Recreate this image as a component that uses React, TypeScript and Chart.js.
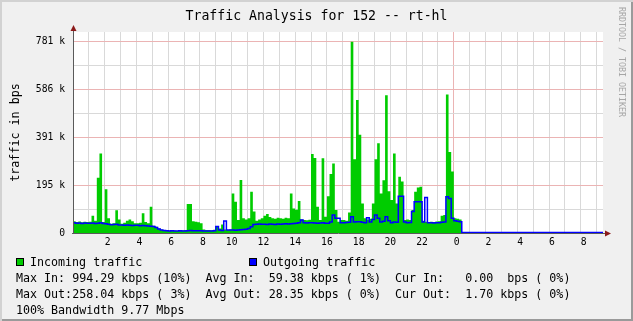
import React, { useEffect, useRef } from 'react';
import { Chart, registerables } from 'chart.js';

Chart.register(...registerables);

const MONO = '"DejaVu Sans Mono", monospace';

const TITLE = 'Traffic Analysis for 152 -- rt-hl';
const Y_TITLE = 'traffic in bps';
const WATERMARK = 'RRDTOOL / TOBI OETIKER';

// time axis in hours from the left edge, 10-minute samples
const SAMPLES_PER_HOUR = 6;
const DATA_END_HOUR = 24.5;
const AXIS_END_HOUR = 33.4;
const HOUR_TICK_COUNT = 34;

// value axis in kbit/s
const Y_MAX_K = 817.9;
const Y_STEP_K = 97.65625;
const Y_TICK_COUNT = 9;
const yTickLabels = ['0', '195 k', '391 k', '586 k', '781 k'];
const hourLabels = ['', ' 2', ' 4', ' 6', ' 8', '10', '12', '14', '16', '18', '20', '22', ' 0', ' 2', ' 4', ' 6', ' 8'];

const incomingK = [
  48, 45, 47, 44, 46, 45,
  46, 70, 50, 225, 324, 45,
  178, 60, 38, 40, 93, 55,
  38, 42, 50, 55, 48, 40,
  40, 42, 80, 45, 40, 107,
  30, 25, 18, 14, 12, 11,
  10, 11, 10, 9, 10, 11,
  12, 118, 118, 48, 46, 44,
  40, 14, 12, 12, 11, 13,
  26, 18, 35, 14, 12, 14,
  161, 127, 53, 216, 60, 55,
  60, 168, 87, 50, 55, 60,
  70, 77, 65, 60, 58, 62,
  60, 58, 62, 60, 161, 100,
  95, 130, 55, 53, 52, 54,
  321, 305, 107, 53, 304, 66,
  150, 240, 283, 94, 46, 53,
  53, 50, 83, 778, 300, 541,
  400, 120, 60, 55, 58, 120,
  300, 365, 161, 215, 561, 170,
  134, 324, 120, 229, 210, 53,
  55, 53, 94, 168, 185, 188,
  50, 46, 45, 46, 45, 47,
  48, 70, 73, 564, 330, 250,
  60, 58, 55,
];

const outgoingK = [
  42, 40, 41, 39, 41, 40,
  40, 41, 39, 40, 42, 39,
  38, 36, 34, 35, 36, 33,
  33, 32, 33, 32, 31, 32,
  32, 30, 31, 30, 28, 27,
  26, 22, 16, 12, 10, 9,
  8, 9, 8, 8, 9, 8,
  8, 9, 10, 9, 9, 9,
  9, 8, 8, 8, 8, 9,
  26, 12, 10, 49, 12, 12,
  12, 11, 12, 13, 14, 15,
  18, 25, 35, 36, 37, 36,
  36, 35, 37, 36, 35, 37,
  36, 37, 38, 37, 38, 39,
  40, 42, 53, 42, 41, 42,
  42, 41, 40, 41, 42, 40,
  40, 45, 73, 60, 60, 42,
  42, 43, 44, 66, 45, 46,
  46, 44, 42, 62, 45, 55,
  73, 60, 45, 48, 66, 50,
  42, 45, 44, 150, 150, 45,
  42, 43, 87, 127, 127, 127,
  45, 144, 42, 42, 41, 42,
  42, 44, 45, 148, 140, 60,
  50, 48, 46,
];
const outgoingTailK = 2;
const incomingTailK = 0;

const legendLabels = ['Incoming traffic', 'Outgoing traffic'];
const legendColors = ['#00cc00', '#0000ff'];
const statLines = [
  'Max In: 994.29 kbps (10%)  Avg In:  59.38 kbps ( 1%)  Cur In:   0.00  bps ( 0%)',
  'Max Out:258.04 kbps ( 3%)  Avg Out: 28.35 kbps ( 0%)  Cur Out:  1.70 kbps ( 0%)',
  '100% Bandwidth 9.77 Mbps',
];

const MINOR_GRID = '#d9d9d9';
const MAJOR_GRID = '#ebb4b4';

const plotBackground = {
  id: 'plotBackground',
  beforeDraw(chart: any) {
    const { ctx, chartArea } = chart;
    ctx.save();
    ctx.fillStyle = '#ffffff';
    ctx.fillRect(chartArea.left, chartArea.top, chartArea.right - chartArea.left, chartArea.bottom - chartArea.top);
    ctx.restore();
  },
};

const axesArrows = {
  id: 'axesArrows',
  afterDatasetsDraw(chart: any) {
    const { ctx, chartArea } = chart;
    const { left, top, right, bottom } = chartArea;
    ctx.save();
    ctx.strokeStyle = '#5a5a5a';
    ctx.lineWidth = 1;
    ctx.beginPath();
    ctx.moveTo(left + 0.5, bottom + 1);
    ctx.lineTo(left + 0.5, top - 3);
    ctx.moveTo(left - 1, bottom + 0.5);
    ctx.lineTo(right + 2, bottom + 0.5);
    ctx.stroke();
    ctx.fillStyle = '#8b1a1a';
    ctx.beginPath();
    ctx.moveTo(left + 0.5, top - 7);
    ctx.lineTo(left - 2.5, top - 1);
    ctx.lineTo(left + 3.5, top - 1);
    ctx.closePath();
    ctx.fill();
    ctx.beginPath();
    ctx.moveTo(right + 8, bottom + 0.5);
    ctx.lineTo(right + 2, bottom - 2.5);
    ctx.lineTo(right + 2, bottom + 3.5);
    ctx.closePath();
    ctx.fill();
    ctx.restore();
  },
};

export default function App() {
  const canvasRef = useRef<HTMLCanvasElement | null>(null);

  useEffect(() => {
    document.body.style.margin = '0';
    const canvas = canvasRef.current;
    if (!canvas) return;

    const inPoints = incomingK.map((v, i) => ({ x: i / SAMPLES_PER_HOUR, y: v }));
    inPoints.push({ x: DATA_END_HOUR, y: incomingTailK });
    const outPoints = outgoingK.map((v, i) => ({ x: i / SAMPLES_PER_HOUR, y: v }));
    outPoints.push({ x: DATA_END_HOUR, y: outgoingTailK });
    outPoints.push({ x: AXIS_END_HOUR, y: outgoingTailK });

    const tickFont = { family: MONO, size: 9.7 };

    const chart = new Chart(canvas, {
      type: 'line',
      data: {
        datasets: [
          {
            label: legendLabels[0],
            data: inPoints,
            stepped: 'before',
            fill: 'origin',
            backgroundColor: legendColors[0],
            borderColor: legendColors[0],
            borderWidth: 0,
            pointRadius: 0,
            yAxisID: 'y',
            order: 2,
          },
          {
            label: legendLabels[1],
            data: outPoints,
            stepped: 'before',
            fill: false,
            borderColor: legendColors[1],
            borderWidth: 1.5,
            pointRadius: 0,
            yAxisID: 'y',
            order: 1,
          },
        ],
      },
      options: {
        animation: false,
        responsive: false,
        events: [],
        layout: { padding: { left: 0, right: 0, top: 0, bottom: 68 } },
        plugins: {
          legend: { display: false },
          tooltip: { enabled: false },
          title: {
            display: true,
            text: TITLE,
            color: '#000000',
            font: { family: MONO, size: 13.2, weight: 'normal' },
            padding: { top: 8.6, bottom: 7.56 },
          },
        },
        scales: {
          x: {
            type: 'linear',
            min: 0,
            max: AXIS_END_HOUR,
            afterBuildTicks: (s: any) => {
              s.ticks = Array.from({ length: HOUR_TICK_COUNT }, (_, h) => ({ value: h }));
            },
            afterFit: (s: any) => {
              s.height = 20;
            },
            border: { display: false },
            grid: {
              drawTicks: false,
              lineWidth: 1,
              color: (c: any) => {
                const v = c.tick ? c.tick.value : -1;
                if (v === 0) return 'rgba(0,0,0,0)';
                return v === 24 ? MAJOR_GRID : MINOR_GRID;
              },
            },
            ticks: {
              autoSkip: false,
              maxRotation: 0,
              padding: 4,
              color: '#000000',
              font: tickFont,
              callback: (v: any) => (v % 2 === 0 ? hourLabels[v / 2] : ''),
            },
          },
          y: {
            type: 'linear',
            min: 0,
            max: Y_MAX_K,
            afterBuildTicks: (s: any) => {
              s.ticks = Array.from({ length: Y_TICK_COUNT }, (_, i) => ({ value: i * Y_STEP_K }));
            },
            afterFit: (s: any) => {
              s.width = 73;
            },
            border: { display: false },
            grid: {
              drawTicks: false,
              lineWidth: 1,
              color: (c: any) => {
                const i = c.index;
                if (i === 0) return 'rgba(0,0,0,0)';
                return i % 2 === 0 ? MAJOR_GRID : MINOR_GRID;
              },
            },
            ticks: {
              padding: 8,
              color: '#000000',
              font: tickFont,
              callback: (_v: any, i: number) => (i % 2 === 0 ? yTickLabels[i / 2] : ''),
            },
            title: {
              display: true,
              text: Y_TITLE,
              color: '#000000',
              font: { family: MONO, size: 11.7 },
              padding: { top: 9, bottom: 0 },
            },
          },
          yRight: {
            type: 'linear',
            axis: 'y',
            position: 'right',
            display: true,
            grid: { display: false },
            border: { display: false },
            ticks: { display: false },
            afterFit: (s: any) => {
              s.width = 30;
            },
          },
        },
      } as any,
      plugins: [plotBackground, axesArrows],
    } as any);

    return () => chart.destroy();
  }, []);

  const textRow = (top: number, left: number, text: string) => (
    <div
      style={{
        position: 'absolute',
        left,
        top: top - 7,
        height: 14,
        lineHeight: '14px',
        fontFamily: MONO,
        fontSize: 11.66,
        color: '#000',
        whiteSpace: 'pre',
      }}
    >
      {text}
    </div>
  );

  const swatch = (left: number, top: number, color: string) => (
    <div
      style={{
        position: 'absolute',
        left,
        top,
        width: 8,
        height: 8,
        boxSizing: 'border-box',
        border: '1px solid #000',
        background: color,
      }}
    />
  );

  return (
    <div
      style={{
        position: 'relative',
        width: 633,
        height: 321,
        background: '#f0f0f0',
        boxShadow: 'inset 2px 2px 0 #d2d2d2, inset -2px -2px 0 #9a9a9a',
        overflow: 'hidden',
      }}
    >
      <canvas ref={canvasRef} width={633} height={321} style={{ position: 'absolute', left: 0, top: 0 }} />
      <div
        style={{
          position: 'absolute',
          left: 617,
          top: 7,
          writingMode: 'vertical-rl',
          fontFamily: MONO,
          fontSize: 8.3,
          lineHeight: '10px',
          color: '#a6a6a6',
          whiteSpace: 'pre',
        }}
      >
        {WATERMARK}
      </div>
      {swatch(16, 258, legendColors[0])}
      {textRow(262, 30, legendLabels[0])}
      {swatch(249, 258, legendColors[1])}
      {textRow(262, 263, legendLabels[1])}
      {textRow(278, 16, statLines[0])}
      {textRow(294, 16, statLines[1])}
      {textRow(310, 16, statLines[2])}
    </div>
  );
}
